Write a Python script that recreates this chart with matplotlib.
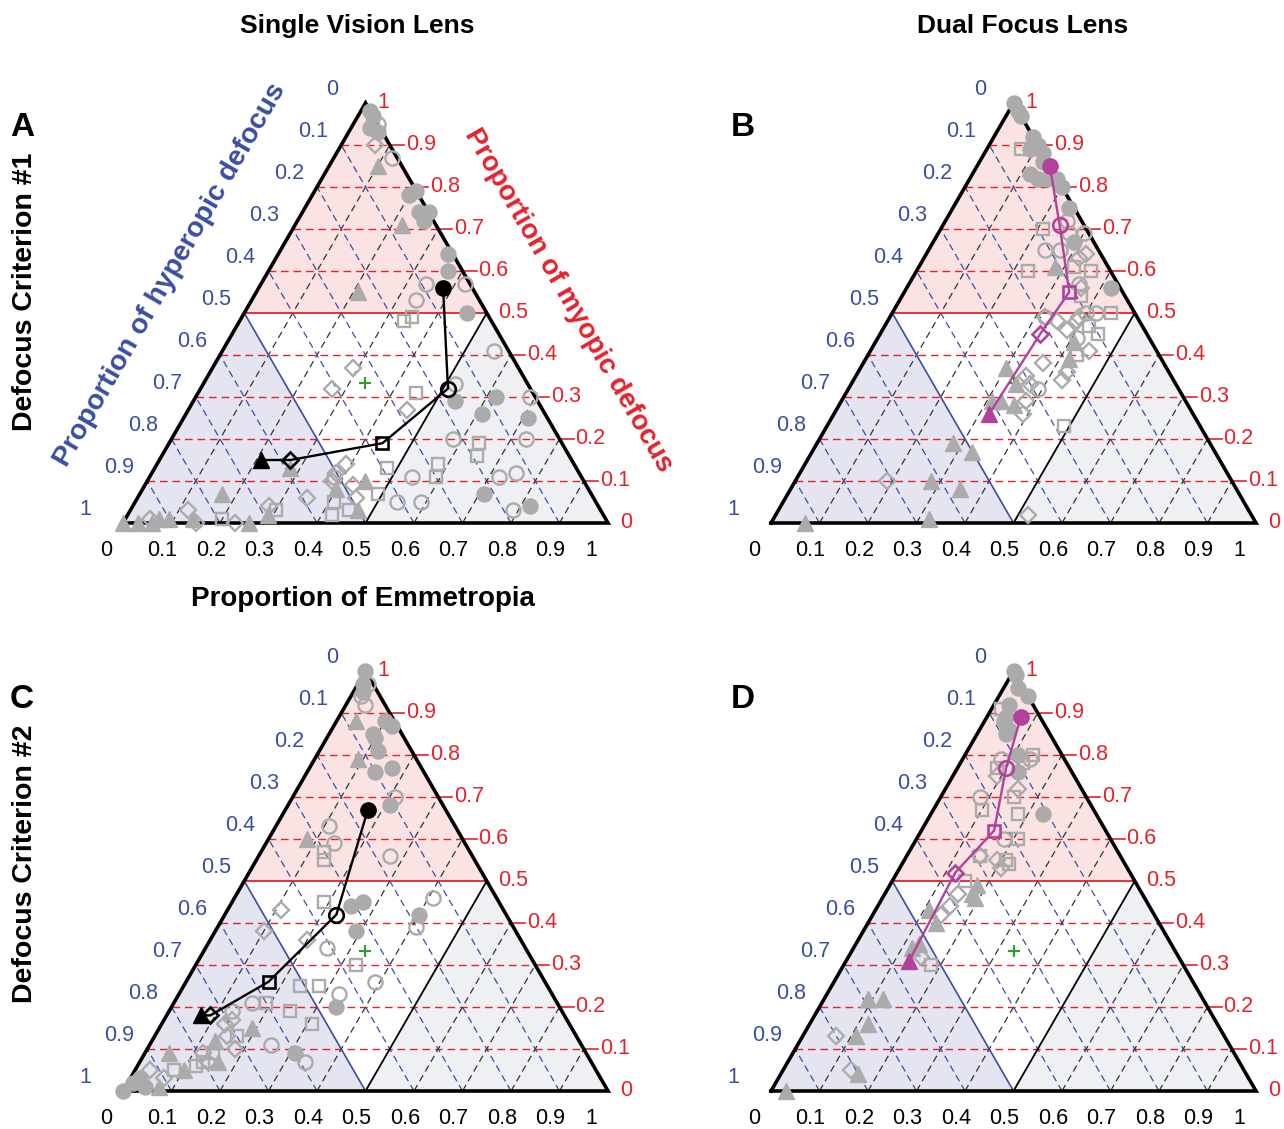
import numpy as np
import matplotlib
matplotlib.use("Agg")
import matplotlib.pyplot as plt

plt.rcParams['font.family'] = ['Liberation Sans', 'DejaVu Sans']

# (emmetropia, myopia) proportions; hyperopia = 1 - both
# panel A - single vision, criterion 1
A_gfc = [(0.02,0.98),(0.03,0.97),(0.04,0.94),(0.06,0.93),(0.21,0.79),(0.20,0.78),(0.24,0.74),(0.26,0.74),
         (0.26,0.72),(0.35,0.64),(0.37,0.60),(0.46,0.50),(0.54,0.29),(0.62,0.30),(0.61,0.26),(0.71,0.25),
         (0.71,0.07),(0.82,0.04)]
A_goc = [(0.05,0.95),(0.12,0.87),(0.34,0.57),(0.42,0.57),(0.34,0.53),(0.56,0.41),(0.52,0.33),(0.69,0.30),
         (0.58,0.20),(0.73,0.20),(0.54,0.11),(0.72,0.11),(0.75,0.12),(0.54,0.05),(0.59,0.05),(0.79,0.03),
         (0.38,0.11)]
A_gos = [(0.04,0.95),(0.34,0.48),(0.35,0.49),(0.45,0.31),(0.64,0.19),(0.65,0.16),(0.48,0.13),(0.58,0.14),
         (0.59,0.11),(0.49,0.07),(0.45,0.03),(0.41,0.05),(0.42,0.02),(0.30,0.03),(0.20,0.01)]
A_god = [(0.07,0.90),(0.29,0.37),(0.27,0.32),(0.45,0.27),(0.39,0.14),(0.38,0.12),(0.38,0.10),(0.43,0.09),
         (0.45,0.06),(0.35,0.06),(0.28,0.04),(0.23,0.00),(0.12,0.03),(0.15,0.00),(0.05,0.01)]
A_gft = [(0.10,0.85),(0.22,0.71),(0.21,0.55),(0.45,0.10),(0.28,0.13),(0.40,0.08),(0.47,0.03),(0.29,0.02),
         (0.26,0.00),(0.17,0.07),(0.14,0.01),(0.09,0.01),(0.07,0.01),(0.06,0.00),(0.03,0.00),(0.00,0.00)]
A_path = [(0.38,0.56),(0.51,0.32),(0.44,0.19),(0.27,0.15),(0.21,0.15)]

# panel B - dual focus, criterion 1
B_gfc = [(0.00,1.00),(0.02,0.98),(0.03,0.97),(0.08,0.92),(0.10,0.90),(0.09,0.89),(0.12,0.88),(0.13,0.86),
         (0.12,0.83),(0.14,0.82),(0.16,0.82),(0.18,0.82),(0.20,0.80),(0.24,0.75),(0.29,0.67),(0.42,0.56)]
B_goc = [(0.25,0.72),(0.24,0.65),(0.27,0.65),(0.27,0.69),(0.30,0.69),(0.35,0.57),(0.40,0.50),(0.32,0.49),
         (0.42,0.50),(0.41,0.44),(0.39,0.32)]
B_gos = [(0.07,0.89),(0.21,0.70),(0.23,0.60),(0.36,0.60),(0.45,0.50),(0.37,0.54),(0.32,0.61),(0.42,0.47),
         (0.45,0.45),(0.43,0.40),(0.49,0.23)]
B_god = [(0.33,0.64),(0.32,0.63),(0.36,0.56),(0.39,0.49),(0.32,0.49),(0.35,0.48),(0.38,0.46),(0.39,0.48),
         (0.37,0.38),(0.45,0.41),(0.43,0.36),(0.43,0.34),(0.35,0.35),(0.37,0.33),(0.38,0.29),(0.39,0.26),
         (0.52,0.02),(0.19,0.10)]
B_gft = [(0.28,0.61),(0.41,0.43),(0.42,0.39),(0.30,0.37),(0.34,0.33),(0.33,0.29),(0.36,0.28),(0.31,0.29),
         (0.28,0.19),(0.33,0.17),(0.28,0.10),(0.35,0.08),(0.07,0.00),(0.32,0.01)]
B_path = [(0.15,0.85),(0.24,0.71),(0.34,0.55),(0.33,0.45),(0.32,0.26)]

# panel C - single vision, criterion 2
C_gfc = [(0.00,1.00),(0.01,0.97),(0.02,0.95),(0.10,0.88),(0.12,0.87),(0.09,0.85),(0.10,0.84),(0.12,0.81),
         (0.14,0.76),(0.17,0.77),(0.21,0.68),(0.25,0.44),(0.27,0.45),(0.29,0.38),(0.40,0.42),(0.34,0.20),
         (0.31,0.09),(0.00,0.00),(0.01,0.02),(0.02,0.03),(0.04,0.01)]
C_goc = [(0.02,0.97),(0.04,0.92),(0.02,0.94),(0.21,0.70),(0.11,0.63),(0.14,0.59),(0.27,0.56),(0.41,0.46),
         (0.41,0.39),(0.25,0.34),(0.39,0.26),(0.33,0.23),(0.16,0.21),(0.25,0.11),(0.34,0.07),(0.13,0.19)]
C_gos = [(0.13,0.57),(0.14,0.55),(0.19,0.45),(0.33,0.30),(0.24,0.25),(0.28,0.25),(0.19,0.21),(0.25,0.19),
         (0.31,0.16),(0.13,0.07),(0.14,0.09),(0.17,0.13),(0.12,0.06),(0.08,0.05)]
C_god = [(0.11,0.43),(0.10,0.38),(0.20,0.36),(0.13,0.16),(0.14,0.17),(0.15,0.13),(0.12,0.09),(0.14,0.07),
         (0.18,0.10),(0.03,0.05),(0.07,0.03)]
C_gft = [(0.04,0.88),(0.09,0.79),(0.08,0.60),(0.19,0.15),(0.13,0.12),(0.05,0.09),(0.10,0.05),(0.16,0.07),
         (0.07,0.01)]
C_path = [(0.17,0.67),(0.23,0.42),(0.17,0.26),(0.09,0.18),(0.07,0.18)]

# panel D - dual focus, criterion 2
D_gfc = [(0.00,1.00),(0.01,0.99),(0.03,0.96),(0.06,0.94),(0.03,0.92),(0.04,0.89),(0.06,0.86),(0.04,0.88),
         (0.06,0.85),(0.11,0.80),(0.13,0.76),(0.23,0.66)]
D_goc = [(0.14,0.79),(0.08,0.79),(0.08,0.70),(0.18,0.60)]
D_gos = [(0.02,0.91),(0.08,0.77),(0.14,0.80),(0.13,0.78),(0.15,0.70),(0.10,0.67),(0.18,0.66),(0.21,0.60),
         (0.21,0.55),(0.15,0.56),(0.22,0.54),(0.18,0.30),(0.15,0.50)]
D_god = [(0.09,0.75),(0.15,0.72),(0.19,0.55),(0.21,0.53),(0.15,0.56),(0.15,0.44),(0.14,0.42),(0.15,0.47),
         (0.15,0.32),(0.07,0.13),(0.14,0.05)]
D_gft = [(0.18,0.49),(0.19,0.46),(0.18,0.47),(0.11,0.43),(0.14,0.40),(0.13,0.35),(0.12,0.34),(0.09,0.22),
         (0.12,0.22),(0.12,0.16),(0.11,0.13),(0.16,0.04),(0.03,0.00)]
D_path = [(0.07,0.89),(0.10,0.77),(0.15,0.62),(0.12,0.52),(0.13,0.31)]

tick_vals = [0, 0.1, 0.2, 0.3, 0.4, 0.5, 0.6, 0.7, 0.8, 0.9, 1]
tick_text = ['0', '0.1', '0.2', '0.3', '0.4', '0.5', '0.6', '0.7', '0.8', '0.9', '1']

RED = '#e5222b'
BLUE = '#3a4ea1'
GRAY = '#ababab'
MAGENTA = '#b2419c'
R3 = np.sqrt(3) / 2
TICK_FS = 15.5


def tern(pts):
    # (emmetropia, myopia) -> cartesian
    p = np.asarray(pts, dtype=float)
    return p[:, 0] + p[:, 1] / 2, p[:, 1] * R3


W, H = 1284, 1129
S = 485.0
XL = (-0.25, 1.05)
YL = (-0.08, 0.95)

fig = plt.figure(figsize=(W / 100, H / 100), dpi=100)


def make_ax(ox, oy):
    left = ox + XL[0] * S
    right = ox + XL[1] * S
    top = oy - YL[1] * S
    bottom = oy - YL[0] * S
    ax = fig.add_axes([left / W, 1 - bottom / H, (right - left) / W, (bottom - top) / H])
    ax.set_xlim(*XL)
    ax.set_ylim(*YL)
    ax.axis('off')
    return ax


def draw_frame(ax):
    # shaded regions
    for poly, col in [([(0, 0.5), (0.5, 0.5), (0, 1)], '#fbe2e3'),
                      ([(0, 0), (0.5, 0), (0, 0.5)], '#e5e4f1'),
                      ([(0.5, 0), (1, 0), (0.5, 0.5)], '#eff0f3')]:
        x, y = tern(poly)
        ax.fill(x, y, color=col, lw=0, zorder=0)
    dash = (0, (5.5, 3.5))
    for v in tick_vals[1:-1]:
        solid = abs(v - 0.5) < 1e-9
        # myopia constant
        x, y = tern([(0, v), (1 - v, v)])
        ax.plot(x, y, color=RED, lw=1.3 if solid else 1.0, ls='-' if solid else dash, zorder=1)
        # emmetropia constant
        x, y = tern([(v, 0), (v, 1 - v)])
        ax.plot(x, y, color='black' if solid else '#333333', lw=1.3 if solid else 0.9,
                ls='-' if solid else dash, zorder=1)
        # hyperopia constant
        x, y = tern([(1 - v, 0), (0, 1 - v)])
        ax.plot(x, y, color=BLUE, lw=1.2 if solid else 0.9, ls='-' if solid else dash, zorder=1)
    x, y = tern([(0, 0), (1, 0), (0, 1), (0, 0)])
    ax.plot(x, y, color='black', lw=2.6, zorder=3, solid_joinstyle='miter')

    for v, t in zip(tick_vals, tick_text):
        # right axis (myopic, red)
        ex, ey = 1 - v / 2, v * R3
        if 0 < v < 1 and abs(v - 0.5) > 1e-9:
            ax.plot([ex, ex + 0.029], [ey, ey], color=RED, lw=1.2, zorder=1)
            ax.text(ex + 0.033, ey, t, color=RED, fontsize=TICK_FS, ha='left', va='center')
        else:
            ax.text(ex + 0.024, ey, t, color=RED, fontsize=TICK_FS, ha='left', va='center')
        # left axis (hyperopic, blue)
        lx, ly = (1 - v) / 2, (1 - v) * R3
        off = -0.058 if len(t) > 1 else (-0.068 if t == '0' else -0.078)
        ax.text(lx + off, ly + 0.027, t, color=BLUE, fontsize=TICK_FS, ha='center', va='center')
        # bottom axis (emmetropia, black)
        boff = -0.019 if len(t) > 1 else -0.034
        ax.text(v + boff, -0.056, t, color='black', fontsize=TICK_FS, ha='center', va='center')

    x, y = tern([(1 / 3, 1 / 3)])
    ax.plot(x, y, '+', color='#2aa02a', ms=9, mew=1.5, zorder=4)


def draw_points(ax, gfc, goc, gos, god, gft, path, pcol):
    x, y = tern(gft)
    ax.plot(x, y, '^', ls='none', color=GRAY, ms=11.5, zorder=4)
    x, y = tern(gfc)
    ax.plot(x, y, 'o', ls='none', color=GRAY, ms=10.8, zorder=4)
    x, y = tern(goc)
    ax.plot(x, y, 'o', ls='none', mfc='none', mec=GRAY, ms=10.2, mew=1.7, zorder=4)
    x, y = tern(gos)
    ax.plot(x, y, 's', ls='none', mfc='none', mec=GRAY, ms=8.6, mew=1.7, zorder=4)
    x, y = tern(god)
    ax.plot(x, y, 'D', ls='none', mfc='none', mec=GRAY, ms=8.2, mew=1.7, zorder=4)

    x, y = tern(path)
    ax.plot(x, y, color=pcol, lw=1.7, zorder=5)
    ax.plot(x[0], y[0], 'o', color=pcol, ms=11, zorder=6)
    ax.plot(x[1], y[1], 'o', mfc='none', mec=pcol, ms=10.5, mew=1.9, zorder=6)
    ax.plot(x[2], y[2], 's', mfc='none', mec=pcol, ms=8.5, mew=1.9, zorder=6)
    ax.plot(x[3], y[3], 'D', mfc='none', mec=pcol, ms=8, mew=1.9, zorder=6)
    ax.plot(x[4], y[4], '^', color=pcol, ms=12, zorder=6)


panels = [
    (123, 523, A_gfc, A_goc, A_gos, A_god, A_gft, A_path, 'black'),
    (771, 523, B_gfc, B_goc, B_gos, B_god, B_gft, B_path, MAGENTA),
    (123, 1091, C_gfc, C_goc, C_gos, C_god, C_gft, C_path, 'black'),
    (771, 1091, D_gfc, D_goc, D_gos, D_god, D_gft, D_path, MAGENTA),
]
for ox, oy, gfc, goc, gos, god, gft, path, pcol in panels:
    ax = make_ax(ox, oy)
    draw_frame(ax)
    draw_points(ax, gfc, goc, gos, god, gft, path, pcol)


def ftext(px, py, s, **kw):
    fig.text(px / W, 1 - py / H, s, **kw)


ftext(357, 26, 'Single Vision Lens', fontsize=19, fontweight='bold', ha='center', va='center')
ftext(1023, 26, 'Dual Focus Lens', fontsize=19, fontweight='bold', ha='center', va='center')
ftext(363, 599, 'Proportion of Emmetropia', fontsize=20, fontweight='bold', ha='center', va='center')
ftext(25, 292, 'Defocus Criterion #1', fontsize=20.5, fontweight='bold', ha='center', va='center', rotation=90)
ftext(25, 864, 'Defocus Criterion #2', fontsize=20.5, fontweight='bold', ha='center', va='center', rotation=90)
for lab, px, py in [('A', 22, 127), ('B', 743, 127), ('C', 22, 700), ('D', 743, 700)]:
    ftext(px, py, lab, fontsize=24, fontweight='bold', ha='center', va='center')
ftext(170, 275, 'Proportion of hyperopic defocus', fontsize=20.3, fontweight='bold', color=BLUE,
      ha='center', va='center', rotation=60, rotation_mode='anchor')
ftext(568, 300, 'Proportion of myopic defocus', fontsize=19.8, fontweight='bold', color=RED,
      ha='center', va='center', rotation=-60, rotation_mode='anchor')

fig.savefig('out.png', dpi=100)
